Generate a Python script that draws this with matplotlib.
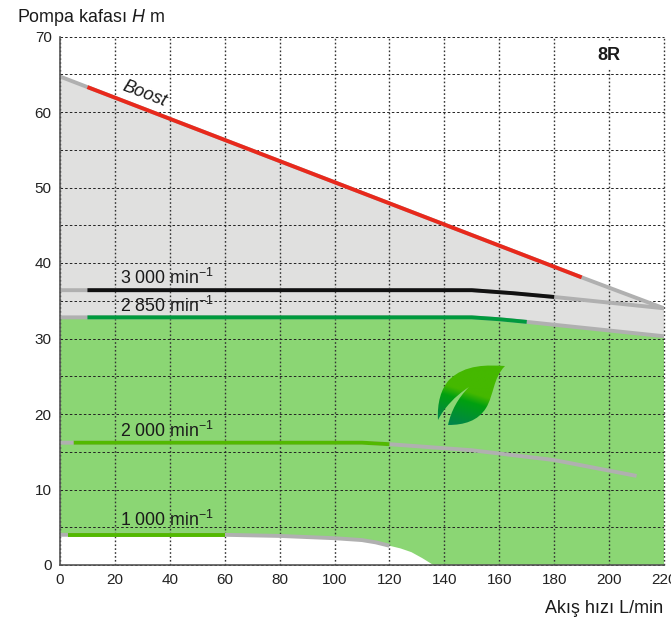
import numpy as np
import matplotlib
matplotlib.use('Agg')
import matplotlib.pyplot as plt
from matplotlib.colors import LinearSegmentedColormap
from matplotlib.patches import PathPatch
from matplotlib.path import Path
from matplotlib.ticker import MultipleLocator

plt.rcParams['font.family'] = ['Liberation Sans', 'DejaVu Sans']
plt.rcParams['mathtext.fontset'] = 'custom'
plt.rcParams['mathtext.rm'] = 'Liberation Sans'
plt.rcParams['mathtext.it'] = 'Liberation Sans:italic'
plt.rcParams['mathtext.default'] = 'regular'

# curves, flow L/min and head m
boost_q = [0, 10, 190, 220]
boost_h = [64.7, 63.3, 38.1, 34.0]
rpm3000_q = [0, 10, 150, 165, 180, 220]
rpm3000_h = [36.4, 36.4, 36.4, 36.0, 35.5, 34.0]
rpm2850_q = [0, 10, 150, 160, 170, 220]
rpm2850_h = [32.8, 32.8, 32.8, 32.55, 32.2, 30.3]
rpm2000_q = [0, 5, 110, 120, 150, 180, 210]
rpm2000_h = [16.2, 16.2, 16.2, 16.0, 15.2, 13.9, 11.8]
rpm1000_q = [0, 3, 60, 80, 100, 110, 115, 120]
rpm1000_h = [4.0, 4.0, 4.0, 3.85, 3.55, 3.3, 3.0, 2.55]
edge_q = [120, 124, 128, 132, 136]
edge_h = [2.55, 2.2, 1.7, 0.9, 0]

xticks = list(range(0, 221, 20))
yticks = list(range(0, 71, 10))

GREY = '#e0e0df'
GREEN = '#8bd674'
LINE_GREY = '#b0b0b0'
LW = 2.8

fig = plt.figure(figsize=(6.71, 6.20), dpi=100)
ax = fig.add_axes([60 / 671, 1 - 565 / 620, 604 / 671, 528.5 / 620])
ax.set_xlim(0, 220)
ax.set_ylim(0, 70)

# filled zones
ax.fill(boost_q + rpm2850_q[::-1], boost_h + rpm2850_h[::-1], color=GREY, lw=0, zorder=1)
ax.fill(rpm2850_q + [220] + edge_q[::-1] + rpm1000_q[::-1],
        rpm2850_h + [0] + edge_h[::-1] + rpm1000_h[::-1],
        color=GREEN, lw=0, zorder=1)

# whole curve grey, usable part coloured on top
curves = [
    (boost_q, boost_h, 1, 3, '#e8291c'),
    (rpm3000_q, rpm3000_h, 1, 5, '#111111'),
    (rpm2850_q, rpm2850_h, 1, 5, '#009a3e'),
    (rpm2000_q, rpm2000_h, 1, 4, '#52b900'),
    (rpm1000_q, rpm1000_h, 1, 3, '#52b900'),
]
for q, h, i0, i1, col in curves:
    ax.plot(q, h, color=LINE_GREY, lw=LW, zorder=3, solid_capstyle='butt')
    ax.plot(q[i0:i1], h[i0:i1], color=col, lw=LW, zorder=3.1, solid_capstyle='butt')

ax.set_xticks(xticks)
ax.set_yticks(yticks)
ax.yaxis.set_minor_locator(MultipleLocator(5))
ax.tick_params(which='both', length=0)
ax.tick_params(axis='x', labelsize=11, labelcolor='#222222', pad=6)
ax.tick_params(axis='y', labelsize=11, labelcolor='#222222', pad=6)
ax.set_axisbelow(False)
ax.grid(which='both', axis='y', color='#222222', linestyle=(0, (2.6, 2.2)), linewidth=0.7)
ax.grid(which='major', axis='x', color='#333333', linestyle=(0, (1.2, 1.6)), linewidth=1.0)
for gl in ax.get_xgridlines() + ax.get_ygridlines():
    gl.set_clip_on(False)

for side in ['top', 'right']:
    ax.spines[side].set_visible(False)
for side in ['left', 'bottom']:
    ax.spines[side].set_color('#555555')
    ax.spines[side].set_linewidth(1.2)
    ax.spines[side].set_zorder(4)

# labels on the curves
lab = dict(fontsize=12.8, color='#1a1a1a', ha='left', va='baseline', zorder=5)
ax.text(22, 37.2, '3 000 min$^{-1}$', **lab)
ax.text(22, 33.5, '2 850 min$^{-1}$', **lab)
ax.text(22, 16.9, '2 000 min$^{-1}$', **lab)
ax.text(22, 5.1, '1 000 min$^{-1}$', **lab)
ax.text(30.8, 62.4, 'Boost', fontsize=13, style='italic', color='#1a1a1a',
        rotation=-21, rotation_mode='anchor', ha='center', va='center', zorder=5)
# white box keeps the x=200 grid line off the model name
ax.text(200, 67.5, '8R', fontsize=13, fontweight='bold', color='#1a1a1a', ha='center', va='center',
        zorder=5, bbox=dict(fc='white', ec='none', pad=4))

fig.text(17 / 671, 1 - 22 / 620, 'Pompa kafası $\\mathit{H}$ m', fontsize=12.9,
         color='#1a1a1a', ha='left', va='baseline')
fig.text(663 / 671, 1 - 613 / 620, 'Akış hızı L/min', fontsize=12.9,
         color='#1a1a1a', ha='right', va='baseline')

# leaf logo, its own small axes in image pixels
leaf_ax = fig.add_axes([436 / 671, 1 - 427 / 620, 70 / 671, 62 / 620])
leaf_ax.set_xlim(436, 506)
leaf_ax.set_ylim(427, 365)
leaf_ax.axis('off')
leaf_verts = [
    (505, 366),
    (488, 365), (465, 364), (449, 380),
    (441, 389), (437, 403), (438, 420),
    (444, 408), (455, 396), (469, 387),
    (458, 398), (451, 411), (448, 425),
    (464, 425), (478, 421), (486, 408),
    (494, 395), (493, 378), (505, 366),
]
leaf_codes = [Path.MOVETO] + [Path.CURVE4] * 18
leaf_patch = PathPatch(Path(leaf_verts, leaf_codes), fc='none', ec='none',
                       transform=leaf_ax.transData)
leaf_ax.add_patch(leaf_patch)
leaf_cmap = LinearSegmentedColormap.from_list(
    'leaf', [(0, '#45b800'), (0.3, '#45b800'), (0.48, '#00a010'), (1, '#00834d')])
gx, gy = np.meshgrid(np.linspace(0, 1, 80), np.linspace(0, 1, 80))
grad = np.clip(gy - gx * 0.35, 0, 1)
im = leaf_ax.imshow(grad, cmap=leaf_cmap, extent=(436, 506, 427, 365), aspect='auto',
                    origin='upper', vmin=0, vmax=0.9, interpolation='bilinear')
leaf_ax.set_xlim(436, 506)
leaf_ax.set_ylim(427, 365)
im.set_clip_path(leaf_patch)

fig.savefig('out.png', dpi=100)
